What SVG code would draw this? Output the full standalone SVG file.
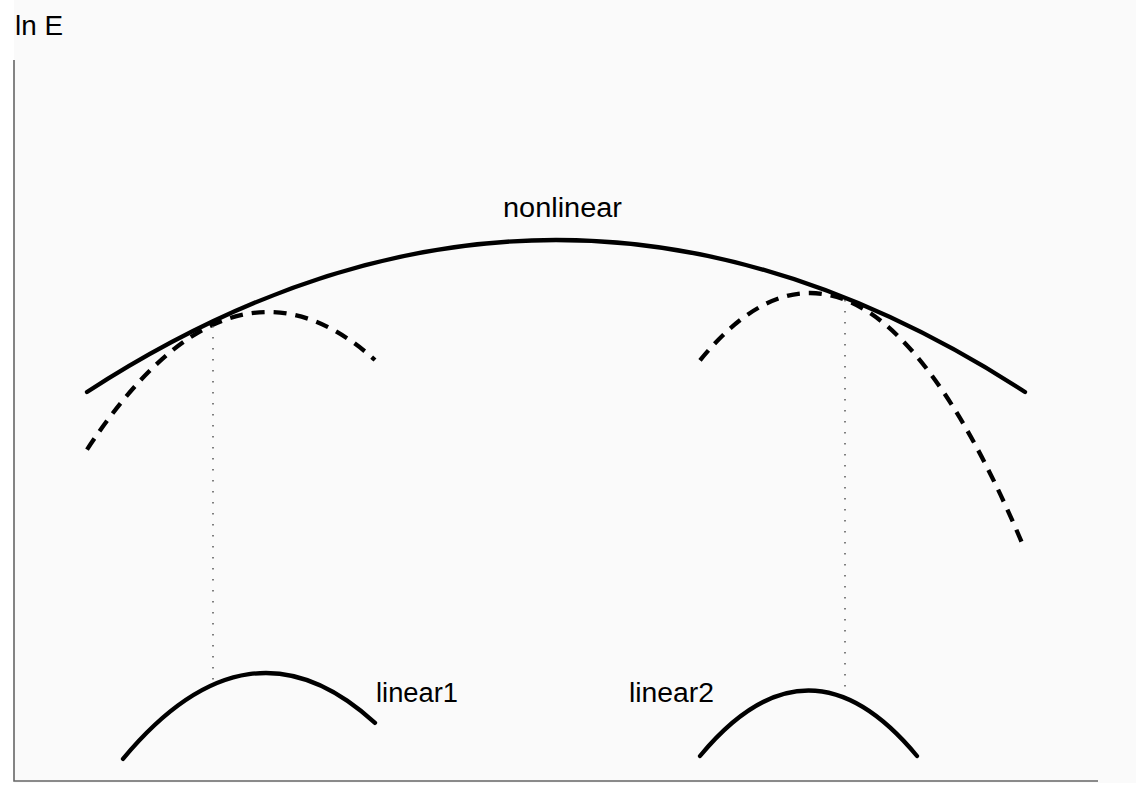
<svg xmlns="http://www.w3.org/2000/svg" width="1136" height="793" viewBox="0 0 1136 793">
  <style>
    .lbl { font-family: "Liberation Sans", Arial, Helvetica, sans-serif; font-size: 27px; fill: #000; }
    .solid { fill: none; stroke: #000; stroke-width: 4.3; stroke-linecap: round; }
    .dash { fill: none; stroke: #000; stroke-width: 4.3; stroke-dasharray: 13 9; }
    .dot { fill: none; stroke: #555; stroke-width: 1.5; stroke-dasharray: 1.6 9.4; }
    .axis { fill: none; stroke: #666; stroke-width: 1.6; }
  </style>
  <rect x="0" y="0" width="1136" height="793" fill="#ffffff"/>
  <rect x="14" y="0" width="1122" height="783" fill="#fafafa"/>

  <g id="axes">
    <polyline class="axis" points="14,60 14,781 1098,781"/>
    <text class="lbl" x="15" y="35" textLength="48" lengthAdjust="spacingAndGlyphs">ln E</text>
  </g>

  <g id="nonlinear">
    <path class="solid" d="M87,392 Q556,88 1025,392"/>
    <text class="lbl" x="503" y="217" textLength="119" lengthAdjust="spacingAndGlyphs">nonlinear</text>
  </g>

  <g id="approx-left">
    <path class="dash" d="M87,449.6 Q231,230.7 375,360"/>
  </g>

  <g id="approx-right">
    <path class="dash" d="M700,360.3 Q862.5,161.5 1025,550"/>
  </g>

  <g id="linear1">
    <path class="solid" d="M123,758.9 Q249,607.5 375,722.9"/>
    <text class="lbl" x="376" y="702" textLength="82" lengthAdjust="spacingAndGlyphs">linear1</text>
  </g>

  <g id="linear2">
    <path class="solid" d="M700,756 Q808.5,625 917,756"/>
    <text class="lbl" x="629" y="702" textLength="85" lengthAdjust="spacingAndGlyphs">linear2</text>
  </g>

  <g id="connectors">
    <line class="dot" x1="213" y1="326" x2="213" y2="680"/>
    <line class="dot" x1="845" y1="300" x2="845" y2="692"/>
  </g>
</svg>
